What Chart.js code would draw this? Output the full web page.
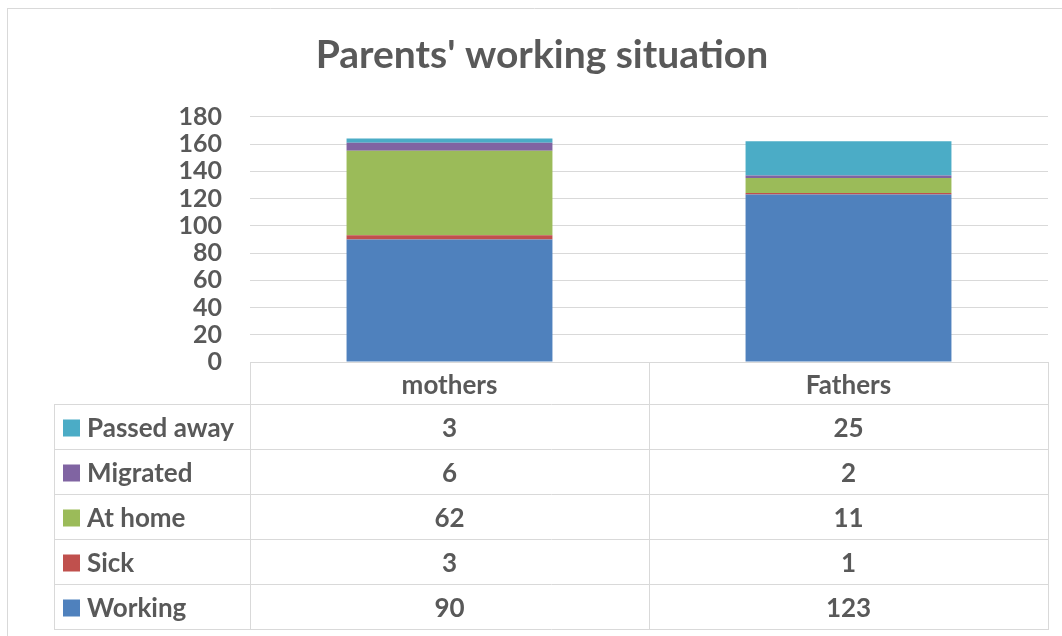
<!DOCTYPE html>
<html>
<head>
<meta charset="utf-8">
<script src="https://cdn.jsdelivr.net/npm/chart.js@4.4.1/dist/chart.umd.min.js"></script>
<style>
  html, body { margin: 0; background: #fff; }
  #wrap { position: relative; width: 1062px; height: 636px; }
</style>
</head>
<body>
<div id="wrap"><canvas id="chart"></canvas></div>
<script>
const categories = ['mothers', 'Fathers']
const seriesNames = ['Working', 'Sick', 'At home', 'Migrated', 'Passed away']
const working = [90, 123]
const sick = [3, 1]
const atHome = [62, 11]
const migrated = [6, 2]
const passedAway = [3, 25]
const seriesColors = ['#4f81bd', '#c0504d', '#9bbb59', '#8064a2', '#4bacc6']
const yMin = 0
const yMax = 180
const yStep = 20

const seriesValues = [working, sick, atHome, migrated, passedAway]
const FONT = 'Lato, "Open Sans", sans-serif'
const TEXT = '#595959'
const LINE = '#d9d9d9'

// data table under the plot, columns follow the x scale
const dataTable = {
  id: 'dataTable',
  afterDraw(chart) {
    const { ctx, chartArea, scales } = chart
    const x = scales.x
    const top = chartArea.bottom
    const headBottom = x.bottom
    const tableLeft = 54
    const rowH = 45
    const rows = seriesNames.length
    const bottom = headBottom + rowH * rows
    const mid = (x.getPixelForValue(0) + x.getPixelForValue(1)) / 2

    ctx.save()
    ctx.strokeStyle = LINE
    ctx.lineWidth = 1
    ctx.beginPath()
    for (const px of [chartArea.left, mid, chartArea.right]) {
      ctx.moveTo(Math.round(px) + 0.5, top)
      ctx.lineTo(Math.round(px) + 0.5, bottom)
    }
    ctx.moveTo(tableLeft + 0.5, headBottom)
    ctx.lineTo(tableLeft + 0.5, bottom)
    for (let r = 0; r <= rows; r++) {
      const y = Math.round(headBottom + r * rowH) + 0.5
      ctx.moveTo(tableLeft, y)
      ctx.lineTo(chartArea.right + 1, y)
    }
    // outer chart frame
    ctx.moveTo(7, 8.5)
    ctx.lineTo(1062, 8.5)
    ctx.moveTo(7.5, 8)
    ctx.lineTo(7.5, 636)
    ctx.stroke()

    ctx.font = 'bold 26px ' + FONT
    ctx.textBaseline = 'middle'
    for (let r = 0; r < rows; r++) {
      const s = rows - 1 - r
      const cy = headBottom + r * rowH + rowH / 2 + 2
      ctx.fillStyle = seriesColors[s]
      ctx.fillRect(63, cy - 9, 17, 17)
      ctx.fillStyle = TEXT
      ctx.textAlign = 'left'
      ctx.fillText(seriesNames[s], 87, cy)
      ctx.textAlign = 'center'
      seriesValues[s].forEach((v, i) => {
        ctx.fillText(String(v), x.getPixelForValue(i), cy)
      })
    }
    ctx.restore()
  },
}

new Chart(document.getElementById('chart'), {
  type: 'bar',
  data: {
    labels: categories,
    datasets: seriesNames.map((name, i) => ({
      label: name,
      data: seriesValues[i],
      backgroundColor: seriesColors[i],
      borderWidth: 0,
      categoryPercentage: 1,
      barPercentage: 0.516,
    })),
  },
  plugins: [dataTable],
  options: {
    responsive: true,
    maintainAspectRatio: false,
    animation: false,
    layout: { padding: { top: 0, left: 36, right: 14, bottom: 232 } },
    scales: {
      x: {
        stacked: true,
        grid: { display: false },
        border: { display: false },
        ticks: { color: TEXT, font: { family: FONT, size: 26, weight: 'bold' }, padding: 0 },
        afterFit: scale => { scale.height = 42 },
      },
      y: {
        stacked: true,
        min: yMin,
        max: yMax,
        ticks: {
          stepSize: yStep,
          autoSkip: false,
          color: TEXT,
          font: { family: FONT, size: 25, weight: 'bold' },
          padding: 28,
        },
        grid: { color: LINE, lineWidth: 1, drawTicks: false },
        border: { display: false },
        afterFit: scale => { scale.width = 214 },
      },
    },
    plugins: {
      legend: { display: false },
      tooltip: { enabled: false },
      title: {
        display: true,
        text: "Parents' working situation",
        color: TEXT,
        font: { family: FONT, size: 39, weight: 'bold', lineHeight: 1.2 },
        padding: { top: 32, bottom: 38 },
      },
    },
  },
})
</script>
</body>
</html>
